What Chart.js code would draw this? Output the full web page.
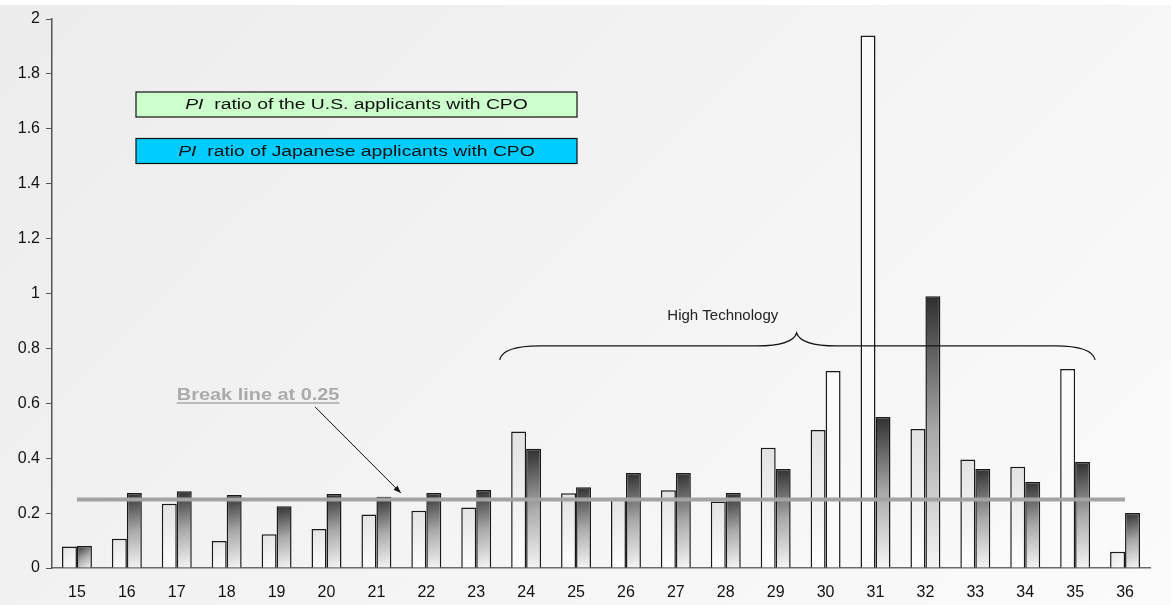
<!DOCTYPE html>
<html lang="en">
<head>
    <meta charset="UTF-8">
    <title>PI ratio with CPO</title>
    <style>
        body {
            margin: 0;
            background: #ffffff;
        }

        .chart-box {
            width: 1171px;
            height: 605px;
            background:
                linear-gradient(to bottom, #ffffff 0, #ffffff 5px, transparent 5px),
                linear-gradient(135deg, #ececec, #fbfbfb);
        }
    </style>
    <script src="https://cdn.jsdelivr.net/npm/chart.js"></script>
</head>
<body>

    <div class="chart-box">
        <canvas id="ratioChart" width="1171" height="605"></canvas>
    </div>

    <script>
        // categories along the x axis
        const categories = ['15', '16', '17', '18', '19', '20', '21', '22', '23', '24', '25',
                            '26', '27', '28', '29', '30', '31', '32', '33', '34', '35', '36'];

        // PI ratio, U.S. applicants with CPO
        const usRatio = [0.078, 0.107, 0.234, 0.098, 0.123, 0.142, 0.195, 0.209, 0.220, 0.497, 0.272,
                         0.256, 0.283, 0.242, 0.438, 0.503, 1.940, 0.506, 0.395, 0.369, 0.725, 0.059];

        // PI ratio, Japanese applicants with CPO
        const jpRatio = [0.080, 0.273, 0.280, 0.266, 0.225, 0.270, 0.260, 0.273, 0.284, 0.434, 0.294,
                         0.346, 0.346, 0.273, 0.361, 0.718, 0.550, 0.990, 0.361, 0.313, 0.386, 0.200];

        const yTickLabels = ['0', '0.2', '0.4', '0.6', '0.8', '1', '1.2', '1.4', '1.6', '1.8', '2'];
        const seriesLabels = ['ratio of the U.S. applicants with CPO', 'ratio of Japanese applicants with CPO'];
        const legendColors = ['#ccffcc', '#00ccff'];

        const breakValue = 0.25;

        // annotation anchors in data units: [category index, value]
        const breakLabelAt = [3.63, 0.634];
        const arrowFrom = [4.77, 0.587];
        const arrowTo = [6.49, 0.273];
        const groupLabelAt = [12.94, 0.918];
        const braceLeft = 8.47, braceRight = 20.4, bracePeak = 14.42;
        const braceEnd = 0.758, braceFlat = 0.809, braceTip = 0.856;

        // bars that Excel drew without the shaded fill
        const plainBars = [[16, 20], [15]];

        const catPct = 0.6;
        const FONT = '"Liberation Sans", Arial, sans-serif';

        function barFill(ctx, side) {
            const chart = ctx.chart;
            const xs = chart.scales.x, ys = chart.scales.y;
            if (ctx.type !== 'data' || !xs || !ys || !xs.width) return '#dddddd';
            if (plainBars[side].includes(ctx.dataIndex)) return '#fafafa';
            const cw = xs.width / categories.length;
            const cx = xs.getPixelForValue(ctx.dataIndex);
            const x0 = side === 0 ? cx - cw * catPct / 2 : cx;
            const x1 = x0 + cw * catPct / 2;
            const top = ys.getPixelForValue(ctx.raw);
            const bottom = ys.getPixelForValue(0);
            const g = chart.ctx.createLinearGradient(x0, top, x1, bottom);
            if (side === 0) {
                g.addColorStop(0, '#e2e2e2');
                g.addColorStop(1, '#ffffff');
            } else {
                g.addColorStop(0, '#2e2e2e');
                g.addColorStop(0.5, '#a9a9a9');
                g.addColorStop(1, '#f6f6f6');
            }
            return g;
        }

        // text in the original is drawn a bit wider than plain Arial
        function wideText(c, text, x, y, sx) {
            c.save();
            c.translate(x, y);
            c.scale(sx, 1);
            c.fillText(text, 0, 0);
            c.restore();
        }

        function drawRichLabel(c, x, y, label) {
            const sx = 1.38;
            c.font = 'italic 14px ' + FONT;
            const w1 = c.measureText('PI  ').width;
            c.font = '14px ' + FONT;
            const w2 = c.measureText(label).width;
            const start = x - (w1 + w2) * sx / 2;
            c.textAlign = 'left';
            c.textBaseline = 'middle';
            c.fillStyle = '#111111';
            c.font = 'italic 14px ' + FONT;
            wideText(c, 'PI', start, y, sx);
            c.font = '14px ' + FONT;
            wideText(c, label, start + w1 * sx, y, sx);
        }

        const annotations = {
            id: 'annotations',
            afterDatasetsDraw(chart) {
                const c = chart.ctx;
                const xs = chart.scales.x, ys = chart.scales.y;
                const ca = chart.chartArea;
                const px = (i) => xs.getPixelForValue(i);
                const py = (v) => ys.getPixelForValue(v);
                c.save();

                // break line
                c.strokeStyle = '#a3a3a3';
                c.lineWidth = 4;
                c.beginPath();
                c.moveTo(px(0), py(breakValue));
                c.lineTo(px(categories.length - 1), py(breakValue));
                c.stroke();

                // break label + underline
                const lblSx = 1.17;
                c.font = 'bold 17px ' + FONT;
                c.fillStyle = '#aaaaaa';
                c.textAlign = 'left';
                c.textBaseline = 'alphabetic';
                const bx = px(breakLabelAt[0]), by = py(breakLabelAt[1]);
                const bw = c.measureText('Break line at 0.25').width * lblSx;
                wideText(c, 'Break line at 0.25', bx - bw / 2, by + 6, lblSx);
                c.strokeStyle = '#aaaaaa';
                c.lineWidth = 1.5;
                c.beginPath();
                c.moveTo(bx - bw / 2, by + 9);
                c.lineTo(bx + bw / 2, by + 9);
                c.stroke();

                // arrow
                const ax0 = px(arrowFrom[0]), ay0 = py(arrowFrom[1]);
                const ax1 = px(arrowTo[0]), ay1 = py(arrowTo[1]);
                c.strokeStyle = '#111111';
                c.fillStyle = '#111111';
                c.lineWidth = 1;
                c.beginPath();
                c.moveTo(ax0, ay0);
                c.lineTo(ax1, ay1);
                c.stroke();
                const ang = Math.atan2(ay1 - ay0, ax1 - ax0);
                c.beginPath();
                c.moveTo(ax1, ay1);
                c.lineTo(ax1 - 8 * Math.cos(ang - 0.35), ay1 - 8 * Math.sin(ang - 0.35));
                c.lineTo(ax1 - 8 * Math.cos(ang + 0.35), ay1 - 8 * Math.sin(ang + 0.35));
                c.closePath();
                c.fill();

                // brace over the high technology group
                const L = px(braceLeft), R = px(braceRight), P = px(bracePeak);
                const yE = py(braceEnd), yF = py(braceFlat), yT = py(braceTip);
                c.strokeStyle = '#151515';
                c.lineWidth = 1.3;
                c.beginPath();
                c.moveTo(L, yE);
                c.quadraticCurveTo(L + 3, yF, L + 40, yF);
                c.lineTo(P - 40, yF);
                c.quadraticCurveTo(P - 4, yF, P, yT);
                c.quadraticCurveTo(P + 4, yF, P + 40, yF);
                c.lineTo(R - 40, yF);
                c.quadraticCurveTo(R - 3, yF, R, yE);
                c.stroke();

                c.font = '15px ' + FONT;
                c.fillStyle = '#222222';
                c.textAlign = 'center';
                c.textBaseline = 'middle';
                c.fillText('High Technology', px(groupLabelAt[0]), py(groupLabelAt[1]));

                // legend boxes
                const lx = ca.left + 84, lw = 441, lh = 25;
                [ca.top + 73, ca.top + 119.5].forEach((ty, k) => {
                    c.fillStyle = legendColors[k];
                    c.fillRect(lx, ty, lw, lh);
                    c.strokeStyle = '#111111';
                    c.lineWidth = 1.2;
                    c.strokeRect(lx, ty, lw, lh);
                    drawRichLabel(c, lx + lw / 2, ty + lh / 2 + 1, seriesLabels[k]);
                });

                c.restore();
            }
        };

        const ctx = document.getElementById('ratioChart').getContext('2d');
        new Chart(ctx, {
            type: 'bar',
            data: {
                labels: categories,
                datasets: [
                    {
                        label: seriesLabels[0],
                        data: usRatio,
                        backgroundColor: (c) => barFill(c, 0),
                        borderColor: '#1a1a1a',
                        borderWidth: 1.5,
                        categoryPercentage: catPct,
                        barPercentage: 1
                    },
                    {
                        label: seriesLabels[1],
                        data: jpRatio,
                        backgroundColor: (c) => barFill(c, 1),
                        borderColor: '#1a1a1a',
                        borderWidth: 1.5,
                        categoryPercentage: catPct,
                        barPercentage: 1
                    }
                ]
            },
            options: {
                responsive: false,
                animation: false,
                layout: { padding: { top: 19, right: 21 } },
                plugins: {
                    legend: { display: false },
                    tooltip: { enabled: false }
                },
                scales: {
                    x: {
                        grid: { display: false, drawTicks: false },
                        border: { display: true, color: '#6a6a6a', width: 1.5 },
                        ticks: {
                            color: '#111111',
                            padding: 15,
                            font: { family: FONT, size: 16 }
                        },
                        afterFit(scale) { scale.height = 37; }
                    },
                    y: {
                        min: 0,
                        max: 2,
                        grid: { drawOnChartArea: false, drawTicks: true, tickLength: 6, color: '#555555' },
                        border: { display: true, color: '#555555', width: 1.5 },
                        ticks: {
                            stepSize: 0.2,
                            color: '#111111',
                            padding: 6,
                            font: { family: FONT, size: 16 },
                            callback: (v, i) => yTickLabels[i]
                        },
                        afterFit(scale) { scale.width = 52; }
                    }
                }
            },
            plugins: [annotations]
        });
    </script>

</body>
</html>
